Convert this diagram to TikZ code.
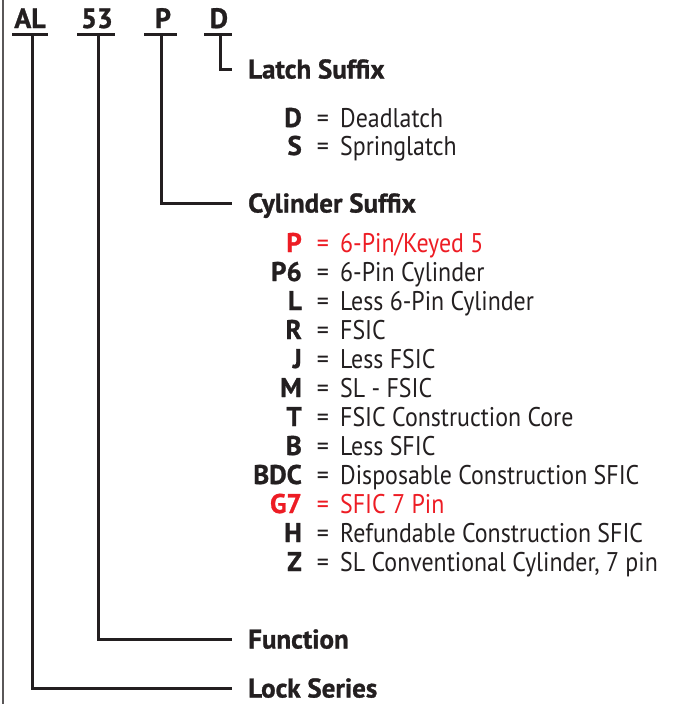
\documentclass[tikz,border=0pt]{standalone}
\usepackage{fontspec}
\setmainfont{PT Sans}[FakeStretch=0.885]
\newfontfamily\heavy{PT Sans Bold}[FakeBold=1]
\usetikzlibrary{positioning}
\definecolor{ink}{RGB}{35,31,32}
\definecolor{keyred}{RGB}{237,28,36}

\begin{document}
\begin{tikzpicture}[x=1pt,y=-1pt,
    wire/.style={line width=3pt,draw=ink},
    head/.style={font=\fontsize{28}{28}\heavy,text=ink,inner sep=0pt,anchor=base},
    title/.style={font=\fontsize{27}{27}\heavy,text=ink,inner xsep=16pt,inner ysep=0pt,
      anchor=west,text height=19pt,text depth=0pt},
    code/.style={font=\fontsize{27}{27}\heavy,inner sep=0pt,anchor=base east},
    eq/.style={font=\fontsize{27}{27}\selectfont,inner sep=0pt,anchor=base},
    desc/.style={font=\fontsize{27}{27}\selectfont,inner sep=0pt,anchor=base west}]
    \useasboundingbox (0,0) rectangle (674,704);
    \draw[line width=1.2pt,draw=ink!75] (3,0) -- (3,704);

    % part number
    \node[head] (hAL) at (30,28) {AL};
    \node[head] (h53) at (97,28) {53};
    \node[head] (hP) at (163,28) {P};
    \node[head] (hD) at (219,28) {D};
    \coordinate (tAL) at (32,34);
    \coordinate (t53) at (98,34);
    \coordinate (tP) at (161,34);
    \coordinate (tD) at (220,34);
    \draw[wire] ([xshift=-20]tAL) -- ([xshift=16]tAL);
    \draw[wire] ([xshift=-21]t53) -- ([xshift=17]t53);
    \draw[wire] ([xshift=-17]tP) -- ([xshift=16]tP);
    \draw[wire] ([xshift=-16]tD) -- ([xshift=12]tD);

    % suffix titles
    \node[title] (latch) at (232,69) {Latch Suffix};
    \node[title] (cyl) at (232,203) {Cylinder Suffix};
    \node[title] (func) at (232,639) {Function};
    \node[title] (series) at (232,688) {Lock Series};

    \draw[wire] (tD) |- (latch.west);
    \draw[wire] (tP) |- (cyl.west);
    \draw[wire] (t53) |- (func.west);
    \draw[wire] (tAL) |- (series.west);

    % latch codes
    \foreach \k/\txt [count=\i] in {D/Deadlatch, S/Springlatch}{
      \node[code,text=ink] (lc\i) at (302,99+28*\i) {\k};
      \node[eq,text=ink] (le\i) at (323,99+28*\i) {=};
      \node[desc,text=ink] (ld\i) at (340,99+28*\i) {\txt};
    }

    % cylinder codes
    \foreach \k/\txt/\col [count=\i] in {P/6-Pin\slash Keyed 5/keyred, P6/6-Pin Cylinder/ink,
        L/Less 6-Pin Cylinder/ink, R/FSIC/ink, J/Less FSIC/ink, M/SL - FSIC/ink,
        T/FSIC Construction Core/ink, B/Less SFIC/ink, BDC/Disposable Construction SFIC/ink,
        G7/SFIC 7 Pin/keyred, H/Refundable Construction SFIC/ink,
        Z/{SL Conventional Cylinder, 7 pin}/ink}{
      \node[code,text=\col] (cc\i) at (302,223+29*\i) {\k};
      \node[eq,text=\col] (ce\i) at (323,223+29*\i) {=};
      \node[desc,text=\col] (cd\i) at (340,223+29*\i) {\txt};
    }
\end{tikzpicture}
\end{document}
